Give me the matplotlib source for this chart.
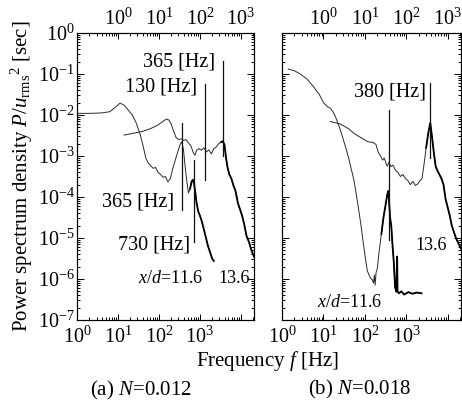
import numpy as np
import matplotlib
matplotlib.use("Agg")
import matplotlib.pyplot as plt
from matplotlib.ticker import FixedLocator, FixedFormatter, LogLocator, NullFormatter

plt.rcParams['font.family'] = ['Liberation Serif', 'DejaVu Serif']
plt.rcParams['mathtext.fontset'] = 'custom'
plt.rcParams['mathtext.rm'] = 'Liberation Serif'
plt.rcParams['mathtext.it'] = 'Liberation Serif:italic'
plt.rcParams['mathtext.bf'] = 'Liberation Serif:bold'

# ---------------- data (log10 values) ----------------
# (a) N=0.012, x/d=11.6  (bottom frequency axis)
lf_a116 = [0.0, 0.3, 0.6, 0.8, 0.95, 1.05, 1.15, 1.25, 1.35, 1.45, 1.55, 1.62, 1.68, 1.74,
           1.8, 1.86, 1.92, 1.98, 2.04, 2.1, 2.16, 2.22, 2.28, 2.34, 2.4, 2.46, 2.52, 2.56,
           2.6, 2.64, 2.68, 2.72, 2.76, 2.8, 2.83, 2.86, 2.89, 2.92, 2.96, 3.0, 3.05, 3.1,
           3.15, 3.2, 3.25, 3.3, 3.34]
lp_a116 = [-1.96, -1.96, -1.95, -1.92, -1.8, -1.71, -1.76, -1.88, -2.0, -2.2, -2.5, -2.78,
           -3.05, -3.17, -3.24, -3.3, -3.28, -3.4, -3.45, -3.52, -3.5, -3.63, -3.55, -3.3,
           -3.1, -2.9, -2.72, -2.65, -2.85, -3.25, -3.6, -3.9, -3.8, -3.62, -3.58, -3.68,
           -3.9, -4.15, -4.35, -4.45, -4.6, -4.8, -5.0, -5.2, -5.35, -5.5, -5.56]
# (a) N=0.012, x/d=13.6  (top frequency axis)
lf_a136 = [0.15, 0.4, 0.6, 0.8, 0.95, 1.08, 1.18, 1.24, 1.3, 1.36, 1.42, 1.48, 1.54, 1.6,
           1.66, 1.72, 1.78, 1.84, 1.88, 1.92, 1.98, 2.04, 2.1, 2.16, 2.22, 2.28, 2.34, 2.4,
           2.46, 2.52, 2.56, 2.6, 2.64, 2.68, 2.72, 2.77, 2.82, 2.87, 2.93, 2.98, 3.03, 3.08,
           3.14, 3.2, 3.26, 3.32, 3.37]
lp_a136 = [-2.49, -2.44, -2.4, -2.33, -2.26, -2.17, -2.1, -2.12, -2.22, -2.4, -2.55, -2.6,
           -2.58, -2.62, -2.6, -2.68, -2.75, -2.92, -2.98, -2.86, -2.82, -2.86, -2.8, -2.9,
           -2.85, -2.95, -2.82, -2.78, -2.7, -2.66, -2.64, -2.72, -3.05, -3.3, -3.45, -3.55,
           -3.72, -3.85, -4.15, -4.3, -4.45, -4.65, -4.95, -5.1, -5.3, -5.45, -5.55]
# (b) N=0.018, x/d=11.6  (bottom frequency axis)
lf_b116 = [0.15, 0.3, 0.44, 0.6, 0.76, 0.9, 1.01, 1.1, 1.17, 1.23, 1.29, 1.38, 1.46, 1.54,
           1.61, 1.68, 1.74, 1.82, 1.9, 1.96, 2.02, 2.06, 2.1, 2.14, 2.18, 2.21, 2.23, 2.25,
           2.27, 2.3, 2.35, 2.4, 2.45, 2.5, 2.54, 2.57, 2.61, 2.64, 2.67, 2.7, 2.73, 2.76,
           2.78, 2.79, 2.82, 2.88, 2.95, 3.05, 3.15, 3.25, 3.37]
lp_b116 = [-0.88, -0.92, -1.0, -1.12, -1.31, -1.5, -1.71, -1.8, -1.84, -1.92, -2.04, -2.28,
           -2.53, -2.8, -3.05, -3.35, -3.6, -4.1, -4.64, -5.1, -5.54, -5.8, -5.9, -5.98,
           -6.02, -6.1, -5.9, -6.15, -5.85, -5.75, -5.29, -4.9, -4.5, -4.2, -3.95, -3.85,
           -4.5, -4.72, -5.2, -5.6, -6.2, -6.31, -5.45, -6.3, -6.35, -6.3, -6.38, -6.32,
           -6.36, -6.33, -6.35]
# (b) N=0.018, x/d=13.6  (top frequency axis)
lf_b136 = [0.17, 0.41, 0.6, 0.74, 0.9, 1.07, 1.2, 1.27, 1.32, 1.38, 1.43, 1.47, 1.51, 1.54,
           1.58, 1.63, 1.68, 1.74, 1.8, 1.86, 1.92, 1.98, 2.04, 2.1, 2.16, 2.22, 2.28, 2.33,
           2.38, 2.43, 2.48, 2.53, 2.56, 2.58, 2.6, 2.63, 2.67, 2.71, 2.75, 2.8, 2.85, 2.9,
           2.95, 3.0, 3.05, 3.1, 3.15, 3.2, 3.26, 3.32, 3.37]
lp_b136 = [-2.16, -2.22, -2.33, -2.45, -2.55, -2.65, -2.67, -2.72, -2.9, -3.0, -3.1, -3.05,
           -3.18, -3.25, -3.15, -3.26, -3.22, -3.35, -3.4, -3.5, -3.45, -3.55, -3.6, -3.7,
           -3.62, -3.72, -3.68, -3.6, -3.55, -3.2, -2.8, -2.45, -2.3, -2.2, -2.35, -2.6,
           -2.95, -3.25, -3.35, -3.45, -3.55, -3.7, -4.05, -4.25, -4.45, -4.7, -4.85, -5.0,
           -5.13, -5.25, -5.35]

# peak marker lines: frequency [Hz], upper and lower log10 PSD
lines_a_bottom = [(365, -2.2, -4.32), (730, -3.1, -5.1)]
lines_a_top = [(130, -1.24, -3.59), (365, -0.68, -3.0)]
lines_b_bottom = [(380, -1.88, -5.05)]
lines_b_top = [(380, -1.22, -3.05)]

bottom_tick_labels = [r"$10^{0}$", r"$10^{1}$", r"$10^{2}$", r"$10^{3}$", ""]
top_tick_labels = ["", r"$10^{0}$", r"$10^{1}$", r"$10^{2}$", r"$10^{3}$"]
y_tick_labels = [r"$10^{-7}$", r"$10^{-6}$", r"$10^{-5}$", r"$10^{-4}$",
                 r"$10^{-3}$", r"$10^{-2}$", r"$10^{-1}$", r"$10^{0}$"]

W, H = 462, 400
fig = plt.figure(figsize=(W / 100, H / 100), dpi=100)

XMAX = 2.1e4
FS = 14.5


def style_axes(ax, ax_top, show_ylabels):
    for a in (ax, ax_top):
        a.set_xscale('log')
        a.set_yscale('log')
        for s in a.spines.values():
            s.set_linewidth(0.8)
    ax.set_xlim(1, XMAX)
    ax_top.set_xlim(0.1, XMAX / 10)
    ax.set_ylim(1e-7, 1)
    ax.xaxis.set_major_locator(FixedLocator([1, 10, 100, 1000, 10000]))
    ax.xaxis.set_major_formatter(FixedFormatter(bottom_tick_labels))
    ax.xaxis.set_minor_locator(LogLocator(base=10, subs=np.arange(2, 10), numticks=20))
    ax.xaxis.set_minor_formatter(NullFormatter())
    ax_top.xaxis.set_major_locator(FixedLocator([0.1, 1, 10, 100, 1000]))
    ax_top.xaxis.set_major_formatter(FixedFormatter(top_tick_labels))
    ax_top.xaxis.set_minor_locator(LogLocator(base=10, subs=np.arange(2, 10), numticks=20))
    ax_top.xaxis.set_minor_formatter(NullFormatter())
    ax.yaxis.set_major_locator(FixedLocator([10.0 ** k for k in range(-7, 1)]))
    if show_ylabels:
        ax.yaxis.set_major_formatter(FixedFormatter(y_tick_labels))
    else:
        ax.yaxis.set_major_formatter(NullFormatter())
    ax.yaxis.set_minor_locator(LogLocator(base=10, subs=np.arange(2, 10), numticks=20))
    ax.yaxis.set_minor_formatter(NullFormatter())
    ax.tick_params(axis='both', which='both', direction='in', labelsize=FS, width=0.7)
    ax.tick_params(axis='y', which='both', left=True, right=True)
    ax.tick_params(axis='y', which='major', length=5, pad=1.5)
    ax.tick_params(axis='y', which='minor', length=2.5)
    ax.tick_params(axis='x', which='major', length=4.5, pad=4.5)
    ax.tick_params(axis='x', which='minor', length=2.5)
    ax_top.tick_params(axis='x', which='both', direction='in', labelsize=FS, width=0.7)
    ax_top.tick_params(axis='x', which='major', length=4.5, pad=2.5)
    ax_top.tick_params(axis='x', which='minor', length=2.5)


def draw_curve(a, lf, lp, thick_from):
    f = 10.0 ** np.array(lf)
    p = 10.0 ** np.array(lp)
    a.plot(f, p, color='#2a2a2a', lw=0.7, solid_joinstyle='round')
    m = np.array(lf) >= thick_from
    a.plot(f[m], p[m], color='black', lw=1.3, solid_joinstyle='round')


def draw_vlines(a, lines):
    for fr, top, bot in lines:
        a.plot([fr, fr], [10.0 ** bot, 10.0 ** top], color='#111111', lw=0.9)


# ---------------- panel (a) ----------------
axA = fig.add_axes([77 / W, 80 / H, 177 / W, 287 / H])
axA_t = axA.twiny()
style_axes(axA, axA_t, True)
draw_curve(axA, lf_a116, lp_a116, 2.74)
draw_curve(axA_t, lf_a136, lp_a136, 2.5)
draw_vlines(axA, lines_a_bottom)
draw_vlines(axA_t, lines_a_top)

axA_t.text(233, 10 ** -0.82, "365 [Hz]", ha='right', va='baseline', fontsize=FS)
axA_t.text(85, 10 ** -1.43, "130 [Hz]", ha='right', va='baseline', fontsize=FS)
axA.text(233, 10 ** -4.22, "365 [Hz]", ha='right', va='baseline', fontsize=FS)
axA.text(570, 10 ** -5.27, "730 [Hz]", ha='right', va='baseline', fontsize=FS)
axA.text(31, 10 ** -6.1, r"$x/d$=11.6", ha='left', va='baseline', fontsize=13)
axA.text(2800, 10 ** -6.1, "13.6", ha='left', va='baseline', fontsize=13)

axA.set_ylabel(r"Power spectrum density $P/u_{\mathrm{rms}}{}^{2}$ [sec]", fontsize=15,
               labelpad=2)

# ---------------- panel (b) ----------------
axB = fig.add_axes([282 / W, 80 / H, 179 / W, 287 / H])
axB_t = axB.twiny()
style_axes(axB, axB_t, False)
draw_curve(axB, lf_b116, lp_b116, 2.4)
draw_curve(axB_t, lf_b136, lp_b136, 2.45)
draw_vlines(axB, lines_b_bottom)
draw_vlines(axB_t, lines_b_top)

axB_t.text(308, 10 ** -1.56, "380 [Hz]", ha='right', va='baseline', fontsize=FS)
axB.text(1660, 10 ** -5.29, "13.6", ha='left', va='baseline', fontsize=13)
axB.text(7.0, 10 ** -6.68, r"$x/d$=11.6", ha='left', va='baseline', fontsize=13)

# ---------------- figure texts ----------------
fig.text(268 / W, 1 - 361 / H, r"Frequency $f$ [Hz]", ha='center', va='center', fontsize=15)
fig.text(141 / W, 1 - 390 / H, r"(a) $N$=0.012", ha='center', va='center', fontsize=15)
fig.text(360 / W, 1 - 389 / H, r"(b) $N$=0.018", ha='center', va='center', fontsize=15)

fig.savefig("out.png", dpi=100)
